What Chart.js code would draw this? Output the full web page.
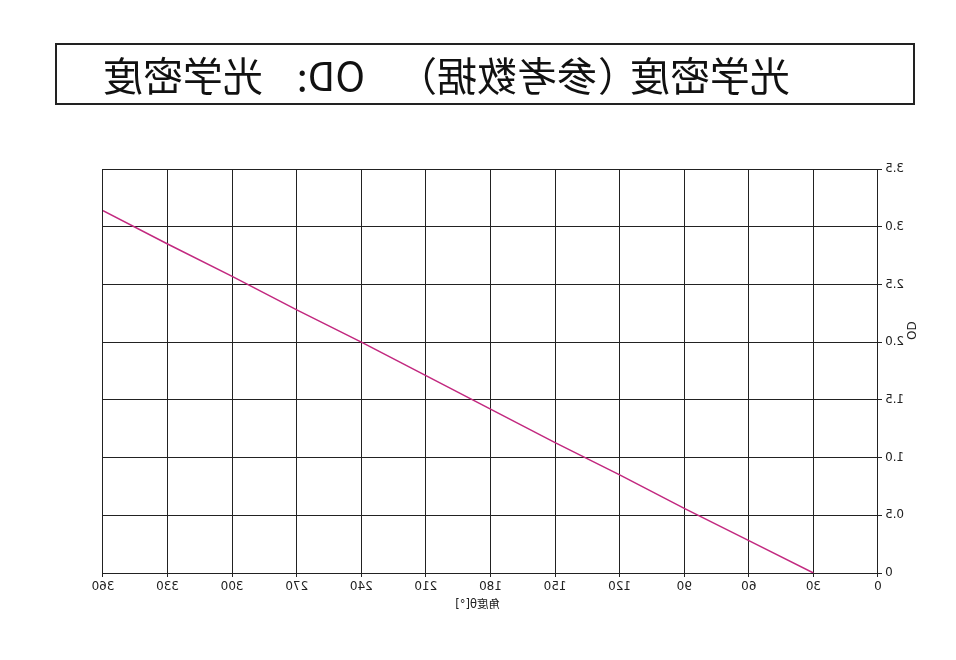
<!DOCTYPE html>
<html>
<head>
<meta charset="utf-8">
<script src="https://cdn.jsdelivr.net/npm/chart.js@4/dist/chart.umd.min.js"></script>
<style>
  html, body { margin: 0; padding: 0; background: #fff; }
  #wrap { position: relative; width: 956px; height: 660px; transform: scaleX(-1); transform-origin: center; overflow: hidden; }
  #titlebox { position: absolute; left: 41px; top: 43px; width: 856px; height: 58px; border: 2px solid #222; }
  .t { position: absolute; top: 0; height: 58px; line-height: 58px; font-family: "Noto Sans CJK SC", sans-serif; font-size: 40px; color: #111; white-space: pre; }
  #c { position: absolute; left: 0; top: 0; }
</style>
</head>
<body>
<div id="wrap">
  <div id="titlebox">
    <span class="t" style="left:123px">光学密度</span><span class="t" style="left:275px">（</span><span class="t" style="left:316px">参考数据</span><span class="t" style="left:476px">）</span><span class="t" style="left:548px">OD:</span><span class="t" style="left:650px">光学密度</span>
  </div>
  <canvas id="c" width="956" height="660"></canvas>
</div>
<script>
const angles = [30, 60, 90, 120, 150, 180, 210, 240, 270, 300, 330, 360];
const odValues = [0, 0.28, 0.56, 0.85, 1.13, 1.42, 1.71, 2.0, 2.28, 2.57, 2.85, 3.14];
const xTicks = [0, 30, 60, 90, 120, 150, 180, 210, 240, 270, 300, 330, 360];
const yTicks = [0, 0.5, 1.0, 1.5, 2.0, 2.5, 3.0, 3.5];
const xTitle = '角度θ[°]';
const yTitle = 'OD';

const points = angles.map((a, i) => ({ x: a, y: odValues[i] }));

const axisTitlePlugin = {
  id: 'axisTitles',
  afterDraw(chart) {
    const ctx = chart.ctx;
    const ys = chart.scales.y;
    const xs = chart.scales.x;
    ctx.save();
    ctx.fillStyle = '#222';
    ctx.textAlign = 'center';
    ctx.textBaseline = 'middle';
    ctx.font = '11.5px "DejaVu Sans", "Noto Sans CJK SC"';
    ctx.fillText(xTitle, xs.getPixelForValue(186), chart.chartArea.bottom + 32);
    ctx.translate(chart.chartArea.left - 32, ys.getPixelForValue(2.1));
    ctx.rotate(-Math.PI / 2);
    ctx.font = '12px "DejaVu Sans"';
    ctx.fillText(yTitle, 0, 0);
    ctx.restore();
  }
};

new Chart(document.getElementById('c'), {
  type: 'line',
  data: {
    datasets: [{
      data: points,
      borderColor: '#c2287f',
      borderWidth: 1.5,
      pointRadius: 0,
      fill: false,
      tension: 0
    }]
  },
  plugins: [axisTitlePlugin],
  options: {
    responsive: false,
    animation: false,
    devicePixelRatio: 1,
    layout: { padding: { left: 30, right: 103, top: 169, bottom: 40 } },
    plugins: { legend: { display: false }, tooltip: { enabled: false } },
    scales: {
      x: {
        type: 'linear',
        min: 0, max: 360,
        afterBuildTicks: s => { s.ticks = xTicks.map(v => ({ value: v })); },
        afterFit: s => { s.height = 47; },
        grid: { color: '#222', lineWidth: 1, tickLength: 4 },
        border: { color: '#222', width: 1 },
        ticks: { color: '#222', font: { family: 'DejaVu Sans', size: 12 }, padding: 3, maxRotation: 0 },
        title: { display: false }
      },
      y: {
        type: 'linear',
        min: 0, max: 3.5,
        afterBuildTicks: s => { s.ticks = yTicks.map(v => ({ value: v })); },
        afterFit: s => { s.width = 48; },
        grid: { color: '#222', lineWidth: 1, tickLength: 4 },
        border: { color: '#222', width: 1 },
        ticks: { color: '#222', font: { family: 'DejaVu Sans', size: 12 }, padding: 3,
          callback: v => v === 0 ? '0' : v.toFixed(1) },
        title: { display: false }
      }
    }
  }
});
</script>
</body>
</html>
